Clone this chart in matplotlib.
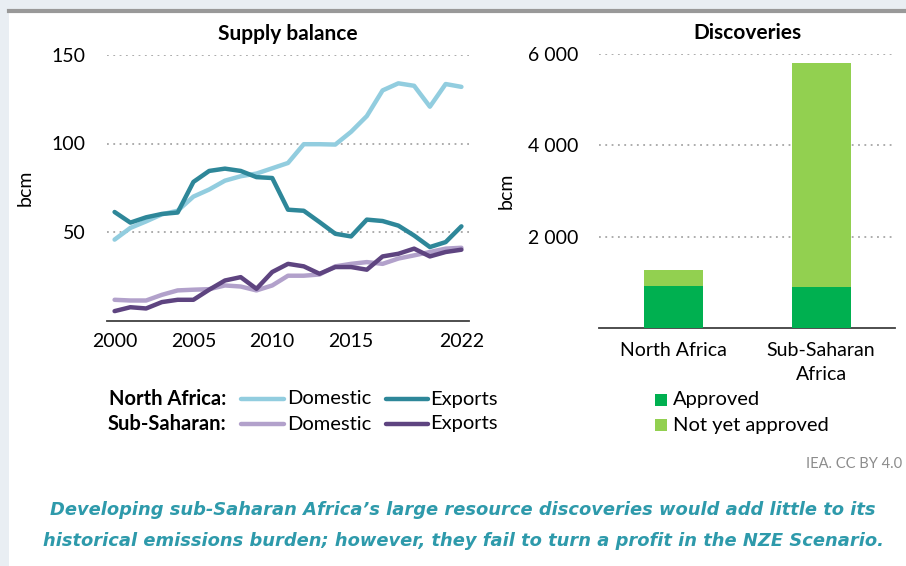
import matplotlib
matplotlib.use("Agg")
import matplotlib.pyplot as plt
from matplotlib.lines import Line2D
from matplotlib.patches import Rectangle
from matplotlib.ticker import FuncFormatter

plt.rcParams['font.family'] = ['Lato', 'DejaVu Sans']

years = list(range(2000, 2023))
na_domestic = [45.7, 52.3, 56, 60, 62, 70, 74, 79, 81.5, 83, 86, 89, 99.6, 99.6, 99.4,
               106.6, 115.5, 130, 134, 132.6, 120.8, 133.6, 132]
na_exports = [61.3, 55.3, 58.3, 60.2, 61, 78.3, 84.5, 85.8, 84.5, 81, 80.5, 62.6, 62,
              55.6, 49, 47.5, 57, 56.2, 53.6, 48, 41.5, 44.3, 53.2]
ss_domestic = [11.7, 11.3, 11.3, 14.5, 17, 17.4, 17.7, 19.8, 19.2, 17, 19.8, 25.3, 25.3,
               26, 30.6, 32, 33, 32, 35, 36.8, 38.7, 40.6, 41.1]
ss_exports = [5.3, 7.5, 6.8, 10.4, 11.7, 11.7, 17.4, 22.6, 24.5, 17.9, 27.4, 32, 30.6,
              26.4, 30.2, 30.2, 28.7, 36.2, 37.7, 40.6, 36.2, 38.7, 40]
x_ticks = [2000, 2005, 2010, 2015, 2022]
y_ticks_left = [50, 100, 150]

regions = ["North Africa", "Sub-Saharan\nAfrica"]
approved = [923, 901]
not_yet_approved = [1267 - 923, 5817 - 901]
y_ticks_right = [2000, 4000, 6000]

C_NA_DOM = "#92CDDF"
C_NA_EXP = "#2E8799"
C_SS_DOM = "#B2A1CB"
C_SS_EXP = "#5E4480"
C_APPR = "#00B050"
C_NYA = "#92D050"
GRID = "#A6A6A6"

W, H = 906, 566
fig = plt.figure(figsize=(W / 100, H / 100), dpi=100)
fig.patch.set_facecolor("#E9EEF3")

def fx(px):
    return px / W

def fy(py):
    return 1 - py / H

# white panel and top grey rule
fig.patches.append(Rectangle((fx(9), 0), 1 - fx(9), fy(11.5), transform=fig.transFigure,
                             facecolor="white", edgecolor="none", zorder=-10))
fig.lines.append(Line2D([fx(9), 1], [fy(10.5), fy(10.5)], transform=fig.transFigure,
                        color="#999999", lw=3, zorder=-5))

# ---------- Left chart ----------
ax1 = fig.add_axes([fx(106.7), fy(320.5), fx(469.3) - fx(106.7), fy(55) - fy(320.5)])
ax1.set_facecolor("none")
ax1.plot(years, na_domestic, color=C_NA_DOM, lw=3.2, solid_capstyle="round", zorder=3)
ax1.plot(years, na_exports, color=C_NA_EXP, lw=3.2, solid_capstyle="round", zorder=4)
ax1.plot(years, ss_domestic, color=C_SS_DOM, lw=3.2, solid_capstyle="round", zorder=3)
ax1.plot(years, ss_exports, color=C_SS_EXP, lw=3.2, solid_capstyle="round", zorder=4)
ax1.set_xlim(1999.5, 2022.5)
ax1.set_ylim(0, 150)
ax1.set_xticks(x_ticks)
ax1.set_yticks(y_ticks_left)
ax1.yaxis.grid(True, color=GRID, linestyle=(0, (1, 2.5)), lw=1.3)
ax1.set_axisbelow(True)
for s in ["top", "right", "left"]:
    ax1.spines[s].set_visible(False)
ax1.spines["bottom"].set_color("#404040")
ax1.spines["bottom"].set_linewidth(1.3)
ax1.tick_params(axis="both", length=0, labelsize=14, colors="black")
ax1.tick_params(axis="x", pad=9)
ax1.tick_params(axis="y", pad=15)
ax1.set_title("Supply balance", fontsize=15, fontweight="bold", pad=11)
ax1.set_ylabel("bcm", fontsize=14, labelpad=13)

# ---------- Right chart ----------
ax2 = fig.add_axes([fx(599.3), fy(327.7), fx(895) - fx(599.3), fy(54.3) - fy(327.7)])
ax2.set_facecolor("none")
xpos = [0, 1]
ax2.bar(xpos, approved, width=0.4, color=C_APPR, zorder=3)
ax2.bar(xpos, not_yet_approved, width=0.4, bottom=approved, color=C_NYA, zorder=3)
ax2.set_xlim(-0.5, 1.5)
ax2.set_ylim(0, 6000)
ax2.set_xticks(xpos)
ax2.set_xticklabels(regions, linespacing=1.55)
ax2.set_yticks(y_ticks_right)
ax2.yaxis.set_major_formatter(FuncFormatter(lambda v, p: f"{int(v):,}".replace(",", " ")))
ax2.yaxis.grid(True, color=GRID, linestyle=(0, (1, 2.5)), lw=1.3)
ax2.set_axisbelow(True)
for s in ["top", "right", "left"]:
    ax2.spines[s].set_visible(False)
ax2.spines["bottom"].set_color("#404040")
ax2.spines["bottom"].set_linewidth(1.3)
ax2.tick_params(axis="both", length=0, labelsize=14, colors="black")
ax2.tick_params(axis="x", pad=10)
ax2.tick_params(axis="y", pad=15)
ax2.set_title("Discoveries", fontsize=15, fontweight="bold", pad=11)
ax2.set_ylabel("bcm", fontsize=14, labelpad=10)

# ---------- Left legend ----------
rows = [("North Africa:", C_NA_DOM, C_NA_EXP, 399), ("Sub-Saharan:", C_SS_DOM, C_SS_EXP, 424)]
for label, cd, ce, py in rows:
    fig.text(fx(226), fy(py), label, ha="right", va="center", fontsize=14.5, fontweight="bold")
    fig.lines.append(Line2D([fx(241), fx(284)], [fy(py), fy(py)], transform=fig.transFigure,
                            color=cd, lw=3.2, solid_capstyle="round"))
    fig.text(fx(287), fy(py), "Domestic", ha="left", va="center", fontsize=14.5)
    fig.lines.append(Line2D([fx(386), fx(428)], [fy(py), fy(py)], transform=fig.transFigure,
                            color=ce, lw=3.2, solid_capstyle="round"))
    fig.text(fx(430), fy(py), "Exports", ha="left", va="center", fontsize=14.5)

# ---------- Right legend ----------
for label, c, py in [("Approved", C_APPR, 400), ("Not yet approved", C_NYA, 425)]:
    fig.patches.append(Rectangle((fx(655), fy(py + 6)), fx(667) - fx(655), fy(py - 6) - fy(py + 6),
                                 transform=fig.transFigure, facecolor=c, edgecolor="none"))
    fig.text(fx(673), fy(py), label, ha="left", va="center", fontsize=14.5)

# source
fig.text(fx(806), fy(464), "IEA. CC BY 4.0", ha="left", va="center", fontsize=10.5, color="#8C8C8C")

# caption
cap_color = "#2E9AAB"
fig.text(fx(463), fy(510), "Developing sub-Saharan Africa\u2019s large resource discoveries would add little to its",
         ha="center", va="center", fontsize=12.9, fontweight="bold", style="italic", color=cap_color,
         family=["DejaVu Sans"])
fig.text(fx(463), fy(541), "historical emissions burden; however, they fail to turn a profit in the NZE Scenario.",
         ha="center", va="center", fontsize=12.9, fontweight="bold", style="italic", color=cap_color,
         family=["DejaVu Sans"])

fig.savefig("out.png", dpi=100, facecolor=fig.get_facecolor())
